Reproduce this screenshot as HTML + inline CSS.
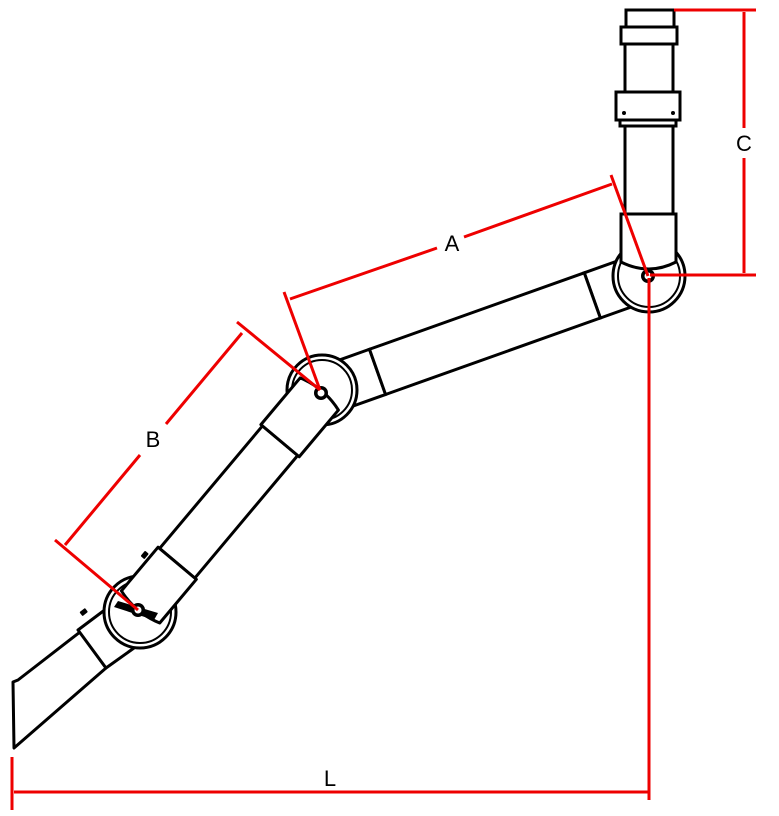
<!DOCTYPE html>
<html><head><meta charset="utf-8"><style>html,body{margin:0;padding:0;background:#fff}svg{display:block}</style></head>
<body>
<svg width="779" height="816" viewBox="0 0 779 816" xmlns="http://www.w3.org/2000/svg">
<!-- End segment -->
<g fill="#fff" stroke="#000" stroke-width="3" stroke-linejoin="round">
  <path d="M13 682 L18 680 L80 632 L106 668 L14 748 Z"/>
  <path d="M78 630 L118 600 L148 638 L106 668 Z"/>
</g>
<rect x="80" y="610" width="7" height="5" rx="1" transform="rotate(-38 83 612)" fill="#000"/>

<!-- Arm A -->
<g transform="translate(321,392) rotate(-19.6)" fill="#fff" stroke="#000" stroke-width="3">
  <rect x="10" y="-24" width="50" height="48"/>
  <rect x="288" y="-24" width="50" height="48"/>
  <rect x="60" y="-24" width="228" height="48"/>
</g>

<!-- Joints -->
<g fill="#fff" stroke="#000" stroke-width="3">
  <circle cx="649" cy="276" r="36"/>
  <circle cx="322" cy="390" r="35"/>
  <circle cx="140" cy="612" r="36"/>
</g>
<g fill="none" stroke="#000" stroke-width="2">
  <circle cx="649" cy="276" r="31"/>
  <circle cx="322" cy="390" r="30"/>
  <circle cx="140" cy="612" r="31"/>
</g>

<!-- Top vertical pipe -->
<g fill="#fff" stroke="#000" stroke-width="3">
  <rect x="626" y="10" width="48" height="20"/>
  <rect x="621" y="27" width="56" height="17"/>
  <rect x="625" y="44" width="48" height="48"/>
  <rect x="616" y="92" width="64" height="28"/>
  <rect x="620" y="120" width="56" height="6"/>
  <rect x="625" y="126" width="48" height="88"/>
  <path d="M621 214 H676 V262 Q649 276 621 262 Z"/>
</g>
<circle cx="624" cy="113" r="2"/><circle cx="673" cy="113" r="2"/>

<!-- Arm B -->
<g transform="translate(138,610) rotate(-50)" fill="#fff" stroke="#000" stroke-width="3" stroke-linejoin="round">
  <rect x="61" y="-23" width="160" height="46"/>
  <path d="M221 -25 L282 -25 Q290 0 282 25 L221 25 Z"/>
  <path d="M61 -25 L4 -25 Q-4 0 4 25 L61 25 Z"/>
</g>
<rect x="141" y="553" width="7" height="5" rx="1" transform="rotate(-50 144 555)" fill="#000"/>

<!-- pivot knobs -->
<g fill="#000">
  <circle cx="648" cy="276" r="7"/><circle cx="321" cy="393" r="7"/><circle cx="138" cy="610" r="7"/>
  <path d="M118 601 L158 613 L154 620 L114 607 Z"/>
</g>
<g fill="#fff"><circle cx="648" cy="276" r="3.5"/><circle cx="321" cy="393" r="3.5"/><circle cx="138" cy="610" r="3.5"/></g>

<!-- Red dimensions -->
<g stroke="#e00" stroke-width="3" fill="none">
  <line x1="674" y1="10" x2="756" y2="10"/>
  <line x1="650" y1="275" x2="756" y2="275"/>
  <line x1="744" y1="12" x2="744" y2="128"/>
  <line x1="744" y1="158" x2="744" y2="273"/>
  <line x1="649" y1="278" x2="649" y2="800"/>
  <line x1="12" y1="757" x2="12" y2="810"/>
  <line x1="14" y1="792" x2="648" y2="792"/>
  <line x1="284" y1="292" x2="320" y2="390"/>
  <line x1="611" y1="175" x2="648" y2="276"/>
  <line x1="290" y1="299" x2="437" y2="248"/>
  <line x1="464" y1="237" x2="612" y2="184"/>
  <line x1="237" y1="322" x2="320" y2="390"/>
  <line x1="55" y1="540" x2="138" y2="610"/>
  <line x1="242" y1="333" x2="166" y2="424"/>
  <line x1="140" y1="455" x2="65" y2="545"/>
</g>
<g font-family="Liberation Sans, sans-serif" font-size="22" fill="#000" text-anchor="middle">
  <text x="744" y="151">C</text>
  <text x="452" y="251">A</text>
  <text x="153" y="447">B</text>
  <text x="330" y="786">L</text>
</g>
</svg>
</body></html>
